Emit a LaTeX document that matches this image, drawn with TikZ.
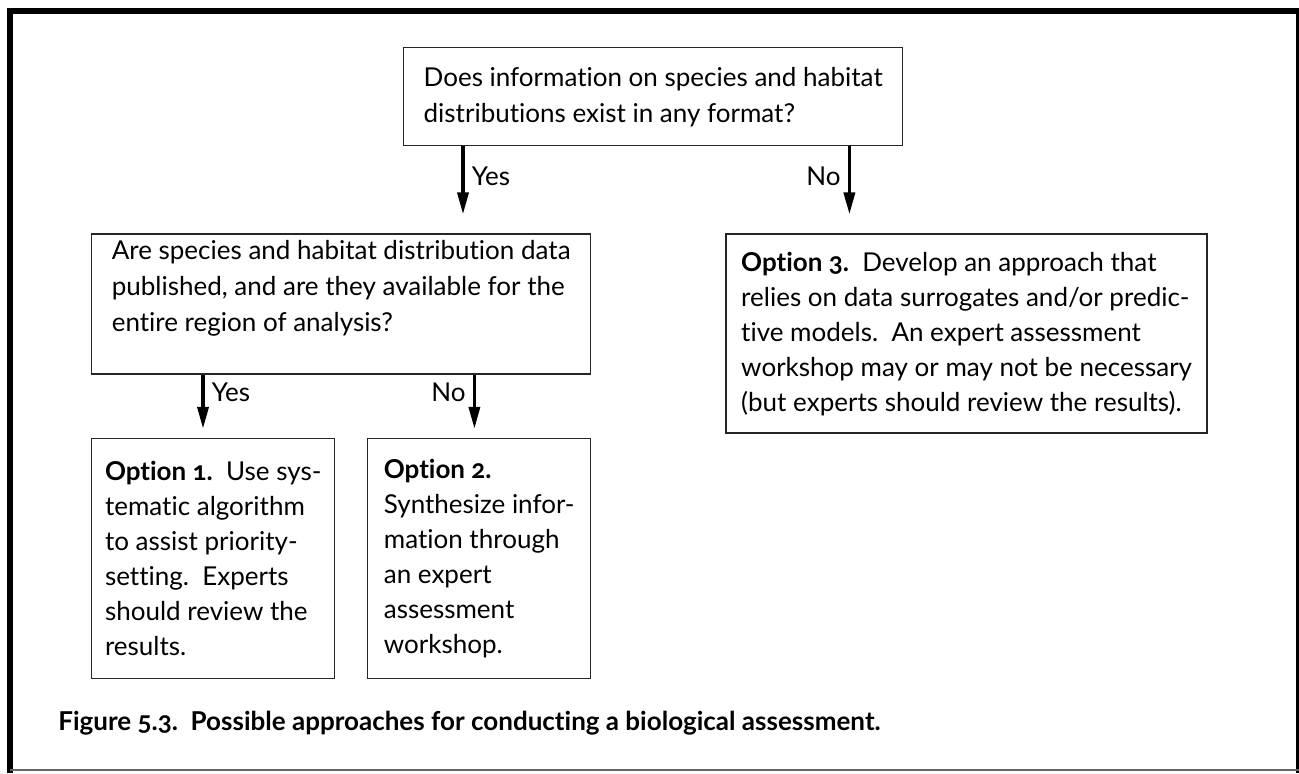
\documentclass[tikz,border=0pt]{standalone}
\usepackage{fontspec}
\setmainfont{Lato}[Numbers=OldStyle, Ligatures=CommonOff]
\usetikzlibrary{positioning,arrows.meta}

\tikzset{
  box/.style={draw=black!85, line width=0.7pt, align=left, inner sep=0pt,
    font=\fontsize{13}{18}\selectfont},
  optbox/.style={box, font=\fontsize{13}{17.5}\selectfont},
  flow/.style={line width=1.75pt, -{Triangle[length=11pt,width=5.5pt]}},
  lbl/.style={font=\fontsize{13}{18}\selectfont, inner sep=3.5pt}
}

\begin{document}
\begin{tikzpicture}[x=0.5pt, y=-0.5pt]
\useasboundingbox (0,0) rectangle (1299,773);
% frame
\draw[line width=3pt] (10,773) -- (10,11) -- (1299,11) -- (1299,773);
\draw[line width=1pt, black!60] (10,770) -- (1299,770);

% nodes
\node[box, anchor=north west, minimum width=249.5pt, minimum height=49pt] (exist) at (403,47)
  {Does information on species and habitat\\distributions exist in any format?};
\node[box, below=43.5pt of exist.south west, anchor=north west, xshift=-156pt,
  minimum width=249.5pt, minimum height=70pt] (avail)
  {Are species and habitat distribution data\\published, and are they available for the\\entire region of analysis?\rule[-18pt]{0pt}{18pt}};
\node[optbox, below=31.5pt of avail.south west, anchor=north west,
  minimum width=121.5pt, minimum height=120pt] (opt1)
  {\textbf{Option 1.}\ \ Use sys-\\tematic algorithm\\to assist priority-\\setting.\ \ Experts\\should review the\\results.};
\node[optbox, below=31.5pt of avail.south east, anchor=north east,
  minimum width=111.5pt, minimum height=120pt] (opt2)
  {\textbf{Option 2.}\\Synthesize infor-\\mation through\\an expert\\assessment\\workshop.};
\node[optbox, right=67pt of avail.north east, anchor=north west,
  minimum width=240.5pt, minimum height=99.5pt] (opt3)
  {\textbf{Option 3.}\ \ Develop an approach that\\relies on data surrogates and/or predic-\\tive models.\ \ An expert assessment\\workshop may or may not be necessary\\(but experts should review the results).};
\node[font=\fontsize{13}{18}\selectfont\bfseries, anchor=base west, inner sep=0pt] (caption) at (58,730)
  {Figure 5.3.\ \ Possible approaches for conducting a biological assessment.};

% edges
\coordinate (yes1) at ([xshift=30pt]exist.south west);
\coordinate (no1) at ([xshift=-27pt]exist.south east);
\coordinate (yes2) at ([xshift=56pt]avail.south west);
\coordinate (no2) at ([xshift=-58.5pt]avail.south east);

\draw[flow, shorten >=9.5pt] (yes1) -- (yes1 |- avail.north) node[lbl, right, pos=0.345] (yes1l) {Yes};
\draw[flow, shorten >=9.5pt] (no1) -- (no1 |- opt3.north) node[lbl, left, pos=0.345] (no1l) {No};
\draw[flow, shorten >=4.5pt] (yes2) -- (yes2 |- opt1.north) node[lbl, right, pos=0.27] (yes2l) {Yes};
\draw[flow, shorten >=4.5pt] (no2) -- (no2 |- opt2.north) node[lbl, left, pos=0.27] (no2l) {No};
\end{tikzpicture}
\end{document}
